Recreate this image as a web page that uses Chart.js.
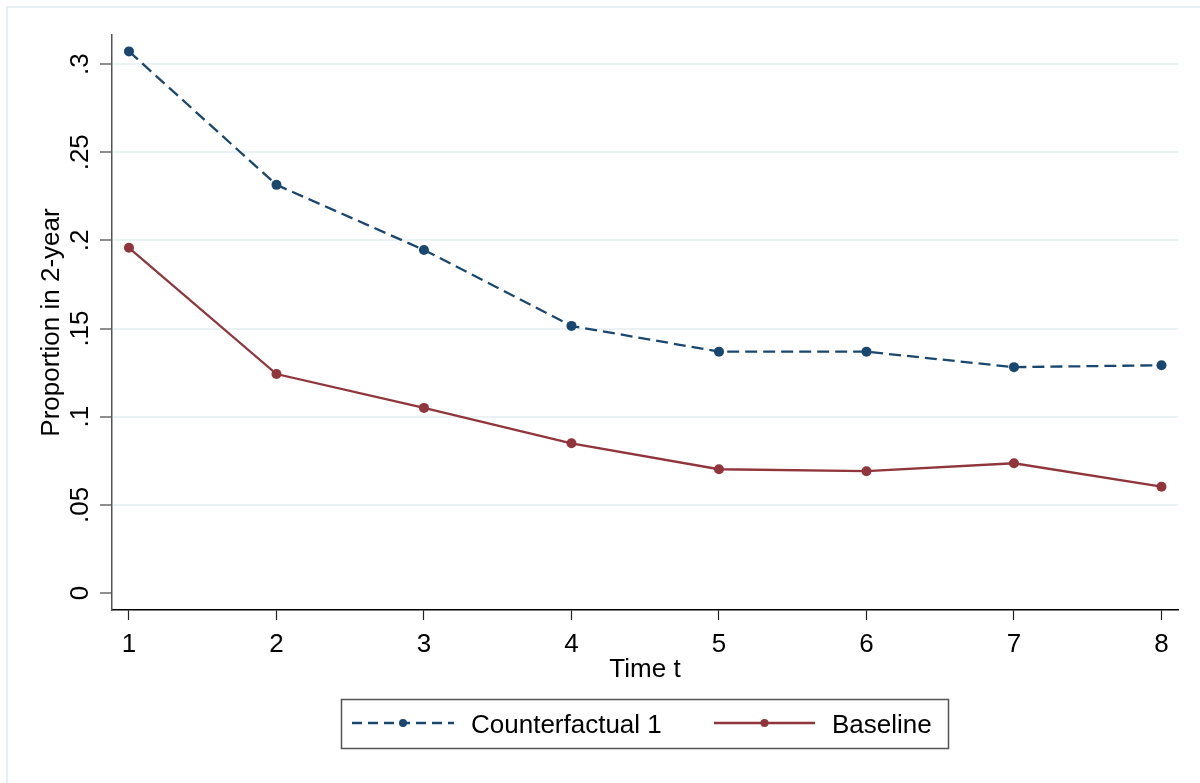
<!DOCTYPE html>
<html lang="en">
<head>
    <meta charset="UTF-8">
    <title>Proportion in 2-year over time</title>
    <script src="https://cdn.jsdelivr.net/npm/chart.js"></script>
    <style>
        html, body { margin: 0; padding: 0; background: #fff; }
        #wrap { width: 1200px; height: 783px; position: relative; }
    </style>
</head>
<body>
    <div id="wrap"><canvas id="chart" width="1200" height="783"></canvas></div>

    <script>
        // Data
        const timePoints = [1, 2, 3, 4, 5, 6, 7, 8];
        const counterfactual1 = [0.3072, 0.2315, 0.1946, 0.1515, 0.1369, 0.1369, 0.1281, 0.1292];
        const baseline = [0.1958, 0.1242, 0.1050, 0.0849, 0.0702, 0.0691, 0.0736, 0.0603];
        const yTicks = [0, 0.05, 0.1, 0.15, 0.2, 0.25, 0.3];
        const yTickLabels = ['0', '.05', '.1', '.15', '.2', '.25', '.3'];
        const xTicks = [1, 2, 3, 4, 5, 6, 7, 8];

        const NAVY = '#1a476f';
        const MAROON = '#90353b';
        const GRID = '#eaf2f3';
        const FONT = '"Liberation Sans", Arial, sans-serif';
        const FSIZE = 26;

        // Light outer frame (graph region)
        const framePlugin = {
            id: 'frame',
            beforeDraw(chart) {
                const ctx = chart.ctx;
                ctx.save();
                ctx.strokeStyle = '#e6eff1';
                ctx.lineWidth = 2;
                ctx.beginPath();
                ctx.moveTo(7, 783);
                ctx.lineTo(7, 7);
                ctx.lineTo(1200, 7);
                ctx.stroke();
                ctx.restore();
            }
        };

        // Rotated y tick labels, placed through the y scale
        const yLabelPlugin = {
            id: 'yLabels',
            afterDraw(chart) {
                const ctx = chart.ctx;
                const y = chart.scales.y;
                ctx.save();
                ctx.fillStyle = '#000';
                ctx.font = FSIZE + 'px ' + FONT;
                ctx.textAlign = 'center';
                ctx.textBaseline = 'alphabetic';
                yTicks.forEach((v, i) => {
                    ctx.save();
                    ctx.translate(88, y.getPixelForValue(v));
                    ctx.rotate(-Math.PI / 2);
                    ctx.fillText(yTickLabels[i], 0, 0);
                    ctx.restore();
                });
                ctx.restore();
            }
        };

        // Boxed legend like Stata's
        const legendPlugin = {
            id: 'boxLegend',
            afterDraw(chart) {
                const ctx = chart.ctx;
                ctx.save();
                ctx.strokeStyle = '#555';
                ctx.lineWidth = 1.5;
                ctx.strokeRect(341.5, 699.5, 607, 49);

                const items = [
                    { ds: chart.data.datasets[0], x0: 352, x1: 454, tx: 471, dash: [10, 6] },
                    { ds: chart.data.datasets[1], x0: 714, x1: 815, tx: 832, dash: [] }
                ];
                const ly = 723;
                items.forEach(it => {
                    ctx.strokeStyle = it.ds.borderColor;
                    ctx.lineWidth = 2.3;
                    ctx.setLineDash(it.dash);
                    ctx.beginPath();
                    ctx.moveTo(it.x0, ly);
                    ctx.lineTo(it.x1, ly);
                    ctx.stroke();
                    ctx.setLineDash([]);
                    ctx.fillStyle = it.ds.borderColor;
                    ctx.beginPath();
                    ctx.arc((it.x0 + it.x1) / 2, ly, 4, 0, Math.PI * 2);
                    ctx.fill();
                    ctx.fillStyle = '#000';
                    ctx.font = FSIZE + 'px ' + FONT;
                    ctx.textAlign = 'left';
                    ctx.textBaseline = 'alphabetic';
                    ctx.fillText(it.ds.label, it.tx, 733);
                });
                ctx.restore();
            }
        };

        new Chart(document.getElementById('chart'), {
            type: 'line',
            data: {
                datasets: [
                    {
                        label: 'Counterfactual 1',
                        data: timePoints.map((t, i) => ({ x: t, y: counterfactual1[i] })),
                        borderColor: NAVY,
                        backgroundColor: NAVY,
                        borderWidth: 2.3,
                        borderDash: [12, 6],
                        pointRadius: 5,
                        pointBorderWidth: 0,
                        tension: 0
                    },
                    {
                        label: 'Baseline',
                        data: timePoints.map((t, i) => ({ x: t, y: baseline[i] })),
                        borderColor: MAROON,
                        backgroundColor: MAROON,
                        borderWidth: 2.3,
                        pointRadius: 5,
                        pointBorderWidth: 0,
                        tension: 0
                    }
                ]
            },
            options: {
                responsive: false,
                animation: false,
                layout: { padding: { top: 35, right: 22, left: 0, bottom: 98 } },
                plugins: {
                    legend: { display: false },
                    tooltip: { enabled: false }
                },
                scales: {
                    x: {
                        type: 'linear',
                        min: 0.885,
                        max: 8.112,
                        afterBuildTicks: s => { s.ticks = xTicks.map(v => ({ value: v })); },
                        afterFit: s => { s.height = 75; },
                        border: { color: '#000', width: 1.5 },
                        grid: {
                            drawOnChartArea: false,
                            tickLength: 10,
                            tickColor: '#222',
                            tickWidth: 1.2
                        },
                        ticks: {
                            color: '#000',
                            padding: 9,
                            maxRotation: 0,
                            font: { family: FONT, size: FSIZE }
                        },
                        title: {
                            display: true,
                            text: 'Time t',
                            color: '#000',
                            padding: { top: 0, bottom: 0 },
                            font: { family: FONT, size: FSIZE }
                        }
                    },
                    y: {
                        type: 'linear',
                        min: -0.00964,
                        max: 0.3165,
                        afterBuildTicks: s => { s.ticks = yTicks.map(v => ({ value: v })); },
                        afterFit: s => { s.width = 112; },
                        border: { color: '#555', width: 1.5 },
                        grid: {
                            color: c => (c.tick && c.tick.value === 0 ? 'rgba(0,0,0,0)' : GRID),
                            lineWidth: 2,
                            tickLength: 12,
                            tickColor: '#444',
                            tickWidth: 1.2
                        },
                        ticks: { display: false },
                        title: {
                            display: true,
                            text: 'Proportion in 2-year',
                            color: '#000',
                            padding: { top: 36, bottom: 0 },
                            font: { family: FONT, size: FSIZE }
                        }
                    }
                }
            },
            plugins: [framePlugin, yLabelPlugin, legendPlugin]
        });
    </script>
</body>
</html>
